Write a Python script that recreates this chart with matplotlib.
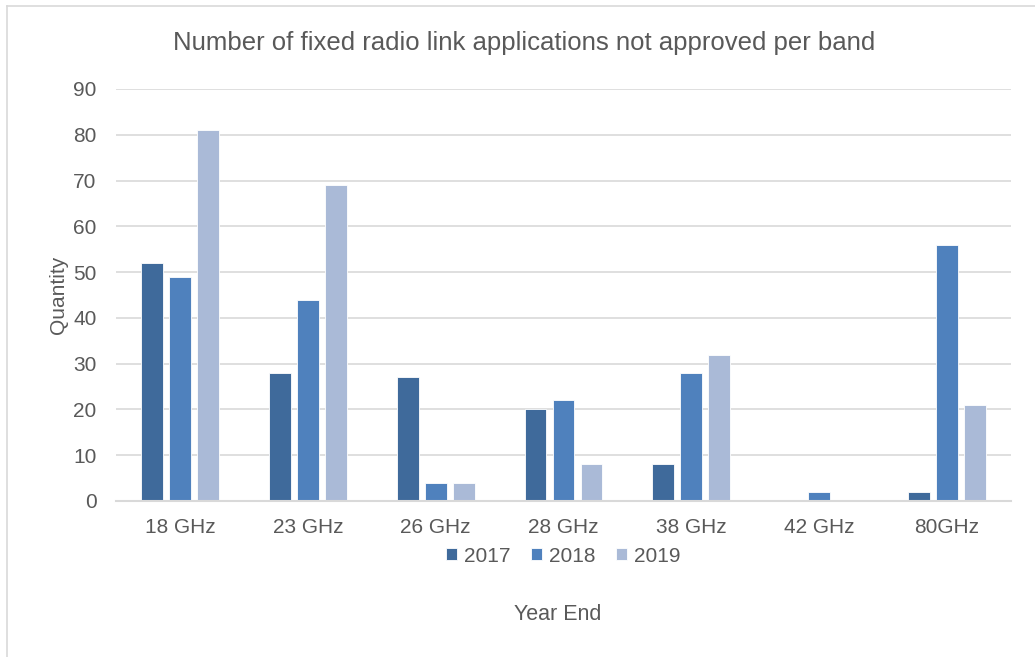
import matplotlib
matplotlib.use("Agg")
import matplotlib.pyplot as plt
import numpy as np
from matplotlib.lines import Line2D

categories = ["18 GHz", "23 GHz", "26 GHz", "28 GHz", "38 GHz", "42 GHz", "80GHz"]
years = ["2017", "2018", "2019"]
v2017 = [52, 28, 27, 20, 8, 0, 2]
v2018 = [49, 44, 4, 22, 28, 2, 56]
v2019 = [81, 69, 4, 8, 32, 0, 21]
yticks = [0, 10, 20, 30, 40, 50, 60, 70, 80, 90]

colors = ["#3F6A9B", "#4F81BD", "#AABAD7"]
txt = "#595959"
plt.rcParams['font.family'] = ['Liberation Sans', 'DejaVu Sans']

fig = plt.figure(figsize=(10.35, 6.57), dpi=100)
ax = fig.add_axes([116/1035, 1-501/657, (1011-116)/1035, (501-89)/657])

x = np.arange(len(categories))
w = 0.172
pitch = 0.219
for i, (vals, lab) in enumerate(zip([v2017, v2018, v2019], years)):
    ax.bar(x + (i-1)*pitch, vals, width=w, color=colors[i], label=lab,
           edgecolor="white", linewidth=0.6, zorder=3)

ax.set_xlim(-0.5, len(categories)-0.5)
ax.set_ylim(0, 90)
ax.set_yticks(yticks)
ax.set_xticks(x)
ax.set_xticklabels(categories)
ax.tick_params(axis='both', length=0, colors=txt, labelsize=15)
ax.tick_params(axis='x', pad=12)
ax.tick_params(axis='y', pad=14)
ax.grid(axis='y', color="#D9D9D9", linewidth=1.2, zorder=0)
for s in ["top", "right", "left"]:
    ax.spines[s].set_visible(False)
ax.spines["bottom"].set_color("#D9D9D9")
ax.spines["bottom"].set_linewidth(1.5)
ax.spines["bottom"].set_zorder(4)

ax.set_ylabel("Quantity", color=txt, fontsize=15, labelpad=4)
fig.text(524.5/1035, 1-43/657, "Number of fixed radio link applications not approved per band",
         ha='center', va='center', color=txt, fontsize=18.5)
fig.text(558/1035, 1-614/657, "Year End", ha='center', va='center', color=txt, fontsize=15.5)

leg = fig.legend(loc='center', bbox_to_anchor=(563/1035, 1-556/657), ncol=3, frameon=False,
                 fontsize=15, handlelength=0.55, handleheight=0.55, handletextpad=0.3,
                 columnspacing=1.0)
for t in leg.get_texts():
    t.set_color(txt)

# chart border (left and top)
fig.add_artist(Line2D([7/1035, 7/1035], [0, 1-6/657], color="#D9D9D9", lw=1.2, transform=fig.transFigure))
fig.add_artist(Line2D([7/1035, 1], [1-6/657, 1-6/657], color="#D9D9D9", lw=1.2, transform=fig.transFigure))

fig.savefig("out.png", dpi=100)
